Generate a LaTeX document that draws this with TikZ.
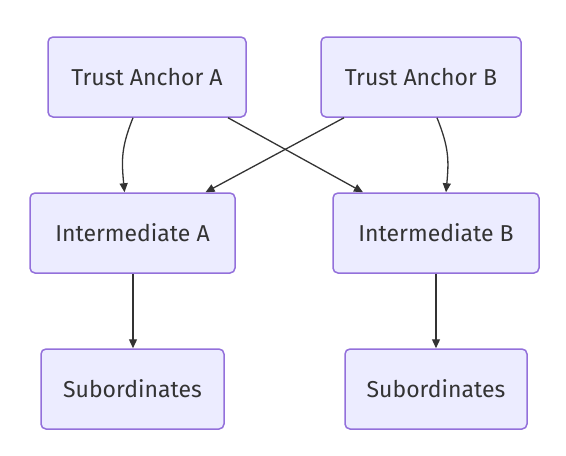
\documentclass[tikz,border=0pt]{standalone}
\usepackage{fontspec}
\setmainfont{Fira Sans}
\usetikzlibrary{arrows.meta}
\definecolor{nfill}{HTML}{ECECFF}
\definecolor{nstroke}{HTML}{9370DB}
\definecolor{txt}{HTML}{333333}
\begin{document}
\begin{tikzpicture}[x=1pt,y=1pt,
  box/.style={draw=nstroke,fill=nfill,line width=1.5pt,rounded corners=5pt,
    minimum height=80pt,inner sep=0pt,text=txt,font=\fontsize{23}{27}\selectfont},
  conn/.style={draw=txt,line width=1.3pt,-{Triangle[length=9pt,width=8pt]}}]
\useasboundingbox (0,0) rectangle (566,-456);
\node[box,minimum width=198pt] (ta) at (147,-77) {Trust Anchor A};
\node[box,minimum width=200pt] (tb) at (421,-77) {Trust Anchor B};
\node[box,minimum width=205pt] (ia) at (132.5,-233) {Intermediate A};
\node[box,minimum width=206pt] (ib) at (436,-233) {Intermediate B};
\node[box,minimum width=183pt] (sa) at (132.5,-389) {Subordinates};
\node[box,minimum width=182pt] (sb) at (436,-389) {Subordinates};
\draw[conn] ([xshift=-14pt]ta.south) .. controls +(-12,-30) and +(-3,32) .. ([xshift=-8pt]ia.north);
\draw[conn] ([xshift=81pt]ta.south) -- ([xshift=-73pt]ib.north);
\draw[conn] ([xshift=-77pt]tb.south) -- ([xshift=73pt]ia.north);
\draw[conn] ([xshift=16pt]tb.south) .. controls +(12,-30) and +(3,32) .. ([xshift=10pt]ib.north);
\draw[conn] ([xshift=0.5pt]ia.south) -- ([xshift=0.5pt]sa.north);
\draw[conn] (ib.south) -- (sb.north);
\end{tikzpicture}
\end{document}
